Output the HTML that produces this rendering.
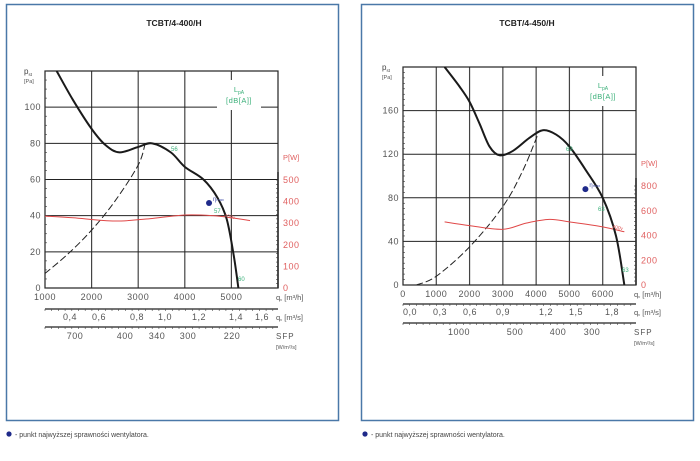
<!DOCTYPE html>
<html><head><meta charset="utf-8"><style>
body{margin:0;background:#fff;width:700px;height:456px;overflow:hidden;font-family:"Liberation Sans",sans-serif}
text{font-family:"Liberation Sans",sans-serif}
</style></head><body>
<svg id="s" width="700" height="456" xmlns="http://www.w3.org/2000/svg">
<rect x="6.5" y="4.5" width="332" height="416" fill="none" stroke="#4a78a8" stroke-width="1.5"/>
<rect x="361.5" y="4.5" width="332" height="416" fill="none" stroke="#4a78a8" stroke-width="1.5"/>
<text x="174" y="26" font-size="8.5" font-weight="bold" text-anchor="middle" fill="#222">TCBT/4-400/H</text>
<text x="527" y="26" font-size="8.5" font-weight="bold" text-anchor="middle" fill="#222">TCBT/4-450/H</text>
<circle cx="9" cy="434" r="2.6" fill="#1f2a8a"/>
<text x="15" y="437" font-size="7" fill="#444">- punkt najwyższej sprawności wentylatora.</text>
<circle cx="365" cy="434" r="2.6" fill="#1f2a8a"/>
<text x="371" y="437" font-size="7" fill="#444">- punkt najwyższej sprawności wentylatora.</text>
<g id="L"></g><g id="R"></g>
</svg>
<script>
// Left chart data (TCBT/4-400/H)
const leftPressureQ=[1250,1600,2000,2300,2600,3000,3300,3700,4000,4400,4700,4900,5050,5150];
const leftPressureP=[120,104,88,79,75,78,80,75,67,60,50,38,18,0];
const leftSystemQ=[1000,1500,2000,2500,3000,3150];
const leftSystemP=[8,19,32,48,68,80];
const leftPowerQ=[1000,1600,2500,3300,4000,4600,5000,5400];
const leftPowerW=[333,325,310,322,338,335,325,312];
const leftBepQ=[4520],leftBepP=[47];
const leftYTicks=[0,20,40,60,80,100];
const leftXTicks=[1000,2000,3000,4000,5000];
const leftPTicks=[0,100,200,300,400,500];
// Right chart data (TCBT/4-450/H)
const rightPressureQ=[1250,1700,2000,2300,2600,2900,3300,3800,4200,4600,5000,5500,6000,6400,6650];
const rightPressureP=[200,182,168,148,127,119,123,135,142,138,127,105,80,45,0];
const rightSystemQ=[400,1000,2000,3000,3600,4050];
const rightSystemP=[0,8,35,72,105,138];
const rightPowerQ=[1250,2000,3000,3700,4400,5000,6000,6650];
const rightPowerW=[510,480,450,500,530,510,470,430];
const rightBepQ=[5480],rightBepP=[88];
const rightYTicks=[0,40,80,120,160];
const rightXTicks=[0,1000,2000,3000,4000,5000,6000];
const rightPTicks=[0,200,400,600,800];

const NS="http://www.w3.org/2000/svg";
function mk(g,tag,at,txt){const e=document.createElementNS(NS,tag);for(const k in at)e.setAttribute(k,at[k]);if(txt!==undefined)e.textContent=txt;g.appendChild(e);return e;}
function smooth(pts){let d="M"+pts[0][0]+","+pts[0][1];for(let i=0;i<pts.length-1;i++){const p0=pts[Math.max(i-1,0)],p1=pts[i],p2=pts[i+1],p3=pts[Math.min(i+2,pts.length-1)];d+=" C"+(p1[0]+(p2[0]-p0[0])/6)+","+(p1[1]+(p2[1]-p0[1])/6)+" "+(p2[0]-(p3[0]-p1[0])/6)+","+(p2[1]-(p3[1]-p1[1])/6)+" "+p2[0]+","+p2[1];}return d;}
function chart(g,c){
 const X=q=>c.x0+(q-c.q0)/(c.q1-c.q0)*(c.x1-c.x0);
 const Y=p=>c.yb-(p/c.pmax)*(c.yb-c.yt);
 const YP=w=>c.yb-(w/c.wmax)*(c.yb-c.wt);
 c.xt.forEach(q=>{if(q===c.q0)return;const e=mk(g,"line",{x1:X(q),x2:X(q),y1:c.yt,y2:c.yb,stroke:"#444","stroke-width":1.2});
 
 });
 c.yti.forEach(p=>{const y=Y(p);const e=mk(g,"line",{x1:c.x0,x2:c.x1,y1:y,y2:y,stroke:"#222","stroke-width":1});
 
 
 const t=mk(g,"text",{x:c.x0-4,y:y+3,"font-size":9,"text-anchor":"end",fill:"#555","letter-spacing":"0.5"},p);
 
 });
 const fr=mk(g,"rect",{x:c.x0,y:c.yt,width:c.x1-c.x0,height:c.yb-c.yt,fill:"none",stroke:"#222","stroke-width":1.2});
 
 
 for(let p=0;p<=c.pmax;p+=c.pmax/(c.pmax>150?40:24)){const y=Y(p);mk(g,"line",{x1:c.x0,x2:c.x0+2,y1:y,y2:y,stroke:"#333","stroke-width":0.6});}
 const lb=mk(g,"rect",{x:c.lx-22,y:c.ly-12,width:44,height:30,fill:"#fff"});
 
 
 let t=mk(g,"text",{x:c.lx,y:c.ly,"font-size":7.5,"text-anchor":"middle",fill:"#3cb07a"},"L");
 mk(t,"tspan",{dy:2,"font-size":5},"pA");
 
 
 t=mk(g,"text",{x:c.lx,y:c.ly+11,"font-size":7.5,"text-anchor":"middle",fill:"#3cb07a","letter-spacing":"0.5"},"[dB[A]]");
 
 
 const ra=mk(g,"line",{x1:c.x1,x2:c.x1,y1:c.wt-8,y2:c.yb,stroke:"#222","stroke-width":1.5});
 
 
 for(let w=0;w<=c.wmax;w+=c.wmax/25){const y=YP(w);mk(g,"line",{x1:c.x1,x2:c.x1-2,y1:y,y2:y,stroke:"#333","stroke-width":0.6});}
 c.pt.forEach(w=>{const e=mk(g,"text",{x:c.x1+5,y:YP(w)+3,"font-size":9,fill:"#e06060","letter-spacing":"0.5"},w);
 
 });
 t=mk(g,"text",{x:c.x1+5,y:c.wt-20,"font-size":7.5,fill:"#e06060"},"P[W]");
 
 
 t=mk(g,"text",{x:c.x0-21,y:c.yt+3,"font-size":8,fill:"#444"},"p");
 mk(t,"tspan",{dy:2,"font-size":4.5},"st");
 
 
 t=mk(g,"text",{x:c.x0-21,y:c.yt+12,"font-size":5.5,fill:"#555"},"[Pa]");
 
 
 let e=mk(g,"path",{d:smooth(c.sq.map((q,i)=>[X(q),Y(c.sp[i])])),fill:"none",stroke:"#222","stroke-width":1,"stroke-dasharray":"7,3"});
 
 
 e=mk(g,"path",{d:smooth(c.wq.map((q,i)=>[X(q),YP(c.ww[i])])),fill:"none",stroke:"#e04848","stroke-width":1});
 
 
 e=mk(g,"path",{d:smooth(c.pq.map((q,i)=>[X(q),Y(c.pp[i])])),fill:"none",stroke:"#1a1a1a","stroke-width":2});
 
 
 e=mk(g,"circle",{cx:X(c.bq[0]),cy:Y(c.bp[0]),r:3,fill:"#1f2a8a"});
 
 
 t=mk(g,"text",{x:X(c.bq[0])+4,y:Y(c.bp[0])-2,"font-size":6,fill:"#4450a8"},"η");
 mk(t,"tspan",{"font-size":4},"max");
 
 
 c.green.forEach(a=>{const e=mk(g,"text",{x:a[0],y:a[1],"font-size":6,fill:"#3cb07a"},a[2]);
 
 });
 t=mk(g,"text",{x:c.vx[0],y:c.vx[1],"font-size":5,fill:"#e06060",transform:"rotate(12 "+c.vx[0]+" "+c.vx[1]+")"},"400v");
 
 
 c.xt.forEach(q=>{const e=mk(g,"text",{x:X(q),y:c.yb+12,"font-size":9,"text-anchor":"middle",fill:"#555","letter-spacing":"0.5"},q);
 
 });
 t=mk(g,"text",{x:c.x1-2,y:c.yb+12,"font-size":7.5,fill:"#555"},"q");
 mk(t,"tspan",{dy:1,"font-size":4},"v");mk(t,"tspan",{dy:-1}," [m³/h]");
 
 
 [c.l2,c.l3].forEach(y=>{const e=mk(g,"line",{x1:c.x0,x2:c.x1,y1:y,y2:y,stroke:"#222","stroke-width":1.2});
 
 
 for(let x=c.x0;x<=c.x1;x+=6.7)mk(g,"line",{x1:x,x2:x,y1:y,y2:y+2,stroke:"#444","stroke-width":0.6});});
 c.m3s.forEach(a=>{const e=mk(g,"text",{x:a[0],y:c.l2+11,"font-size":9,"text-anchor":"middle",fill:"#555","letter-spacing":"0.5"},a[1]);
 
 });
 t=mk(g,"text",{x:c.x1-2,y:c.l2+11,"font-size":7.5,fill:"#555"},"q");
 mk(t,"tspan",{dy:1,"font-size":4},"v");mk(t,"tspan",{dy:-1}," [m³/s]");
 
 
 c.sfp.forEach(a=>{const e=mk(g,"text",{x:a[0],y:c.l3+12,"font-size":9,"text-anchor":"middle",fill:"#555","letter-spacing":"0.5"},a[1]);
 
 });
 t=mk(g,"text",{x:c.x1-2,y:c.l3+12,"font-size":8,fill:"#555","letter-spacing":"1"},"SFP");
 
 
 t=mk(g,"text",{x:c.x1-2,y:c.l3+22,"font-size":5.5,fill:"#555"},"[W/m²/s]");
 
 
}
chart(document.getElementById("L"),{x0:45,x1:278,q0:1000,q1:6000,yt:71,yb:288,pmax:120,wt:180,wmax:500,
 xt:leftXTicks,yti:leftYTicks,pt:leftPTicks,pq:leftPressureQ,pp:leftPressureP,sq:leftSystemQ,sp:leftSystemP,wq:leftPowerQ,ww:leftPowerW,bq:leftBepQ,bp:leftBepP,
 lx:239,ly:92,green:[[171,151,"56"],[214,213,"57"],[238,281,"60"]],vx:[224,217],l2:309,l3:327,
 m3s:[[70,"0,4"],[99,"0,6"],[137,"0,8"],[165,"1,0"],[199,"1,2"],[236,"1,4"],[262,"1,6"]],
 sfp:[[75,"700"],[125,"400"],[157,"340"],[188,"300"],[232,"220"]]});
chart(document.getElementById("R"),{x0:403,x1:636,q0:0,q1:7000,yt:67,yb:285,pmax:200,wt:186,wmax:800,
 xt:rightXTicks,yti:rightYTicks,pt:rightPTicks,pq:rightPressureQ,pp:rightPressureP,sq:rightSystemQ,sp:rightSystemP,wq:rightPowerQ,ww:rightPowerW,bq:rightBepQ,bp:rightBepP,
 lx:603,ly:88,green:[[566,151,"63"],[598,211,"63"],[622,272,"63"]],vx:[612,228],l2:304,l3:323,
 m3s:[[410,"0,0"],[440,"0,3"],[470,"0,6"],[503,"0,9"],[546,"1,2"],[576,"1,5"],[612,"1,8"]],
 sfp:[[459,"1000"],[515,"500"],[558,"400"],[592,"300"]]});
</script>
</body></html>
